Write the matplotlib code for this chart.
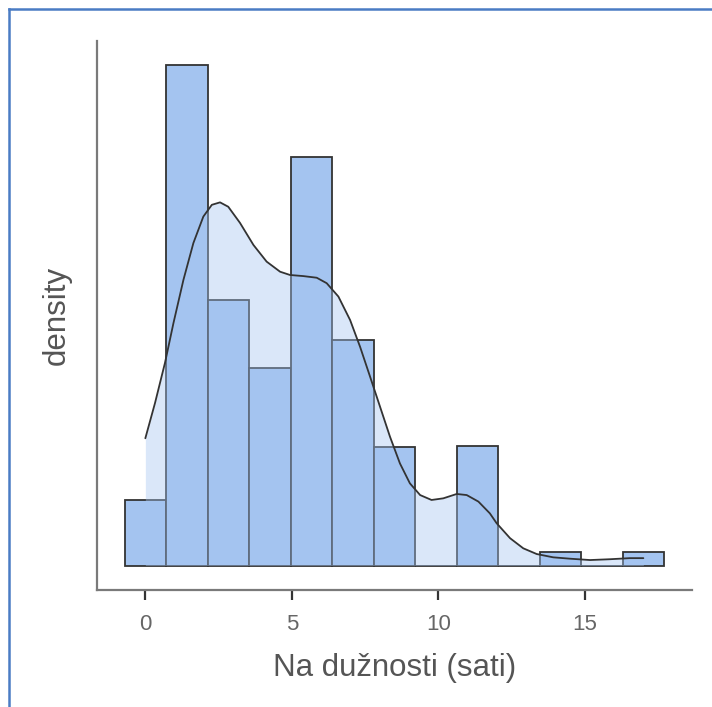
import numpy as np
import matplotlib
matplotlib.use('Agg')
import matplotlib.pyplot as plt
from matplotlib.lines import Line2D

# Histogram counts (13 equal bins)
bin_edges = [-0.71, 0.71, 2.13, 3.54, 4.96, 6.38, 7.79, 9.21, 10.63, 12.04, 13.46, 14.88, 16.29, 17.71]
counts = [5, 38, 20, 15, 31, 17, 9, 0, 9, 0, 1, 0, 1]

# Density curve
kde_x = [0.0, 0.33, 0.67, 0.96, 1.30, 1.64, 1.98, 2.27, 2.55, 2.83, 3.23, 3.69, 4.14, 4.60,
         4.94, 5.39, 5.85, 6.19, 6.59, 6.99, 7.33, 7.67, 8.01, 8.35, 8.69, 9.03, 9.38, 9.77,
         10.17, 10.63, 10.97, 11.37, 11.76, 11.99, 12.45, 12.90, 13.36, 13.92, 14.49, 15.18,
         15.86, 16.54, 17.0]
kde_y = [0.0466, 0.0595, 0.0742, 0.0888, 0.1046, 0.1181, 0.1278, 0.1321, 0.1330, 0.1314,
         0.1255, 0.1174, 0.1113, 0.1076, 0.1064, 0.1060, 0.1054, 0.1034, 0.0985, 0.0899,
         0.0801, 0.0692, 0.0582, 0.0472, 0.0374, 0.0301, 0.0258, 0.0240, 0.0246, 0.0262,
         0.0258, 0.0234, 0.0191, 0.0155, 0.0100, 0.0063, 0.0042, 0.0030, 0.0025, 0.0020,
         0.0023, 0.0027, 0.0027]

x_ticks = [0, 5, 10, 15]

bar_color = '#a4c4f0'
font = ['Liberation Sans', 'DejaVu Sans']

edges = np.array(bin_edges)
widths = np.diff(edges)
n_total = sum(counts)
dens = np.array(counts) / (n_total * widths)

fig = plt.figure(figsize=(7.12, 7.07), dpi=100)
ax = fig.add_axes([97 / 712, 1 - 590 / 707, 595 / 712, 549 / 707])

ax.bar(edges[:-1], dens, width=widths, align='edge', color=bar_color,
       edgecolor='#333333', linewidth=1.3, zorder=2)
ax.fill_between(kde_x, kde_y, 0, color=bar_color, alpha=0.4, linewidth=0, zorder=3)
ax.plot(kde_x, kde_y, color='#333333', linewidth=1.3, zorder=4,
        solid_joinstyle='round', solid_capstyle='round')

ax.set_xlim(-1.65, 18.66)
ax.set_ylim(-0.00897, 0.1921)

for s in ['top', 'right']:
    ax.spines[s].set_visible(False)
for s in ['left', 'bottom']:
    ax.spines[s].set_color('#7a7a7a')
    ax.spines[s].set_linewidth(1.6)

ax.set_xticks(x_ticks)
ax.set_xticklabels([str(t) for t in x_ticks], fontfamily=font, fontsize=16, color='#666666')
ax.tick_params(axis='x', length=7, width=1.6, color='#333333', pad=10)
ax.set_yticks([])

ax.set_xlabel('Na dužnosti (sati)', fontfamily=font, fontsize=22.5, color='#555555', labelpad=13)
ax.set_ylabel('density', fontfamily=font, fontsize=22.5, color='#555555', labelpad=18)

# blue frame lines at the top and left of the image
fig.add_artist(Line2D([9 / 712, 1], [1 - 9 / 707, 1 - 9 / 707], color='#4a7cc4', linewidth=1.8,
                      transform=fig.transFigure))
fig.add_artist(Line2D([9 / 712, 9 / 712], [0, 1 - 9 / 707], color='#4a7cc4', linewidth=1.8,
                      transform=fig.transFigure))

fig.savefig('out.png', dpi=100)
